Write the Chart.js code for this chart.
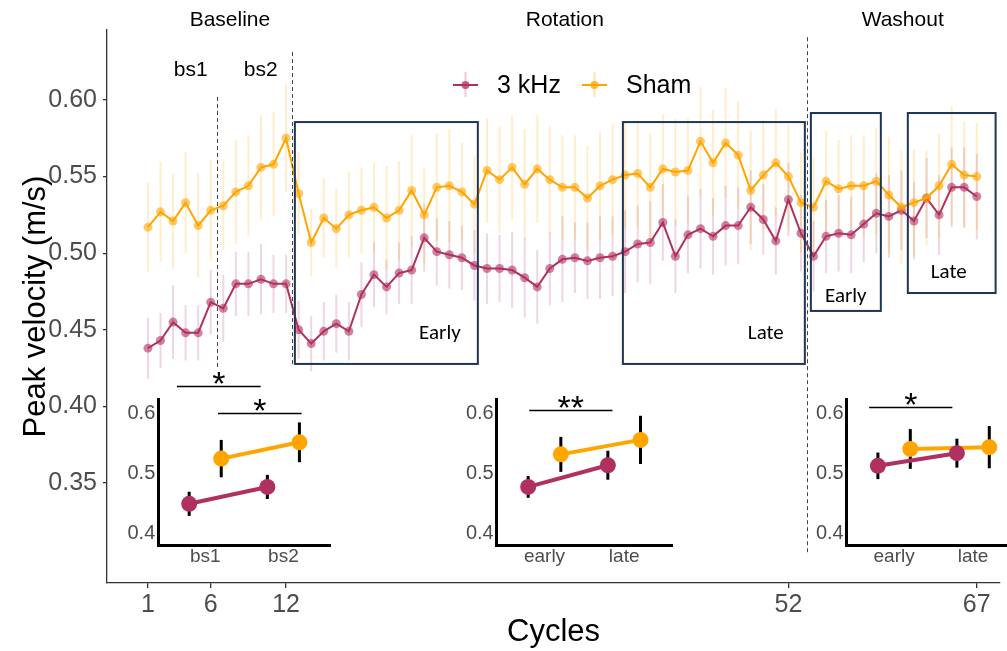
<!DOCTYPE html>
<html>
<head>
<meta charset="utf-8">
<script src="https://cdn.jsdelivr.net/npm/chart.js@4/dist/chart.umd.min.js"></script>
<style>
  html, body { margin: 0; padding: 0; background: #fff; overflow: hidden; width: 1007px; height: 651px; }
  #wrap { position: relative; width: 1007px; height: 651px; }
  canvas { position: absolute; }
</style>
</head>
<body>
<div id="wrap">
  <canvas id="main" width="1007" height="651" style="left:0;top:0"></canvas>
  <canvas id="inBase" width="240" height="215" style="left:100px;top:365px"></canvas>
  <canvas id="inRot" width="240" height="215" style="left:440px;top:365px"></canvas>
  <canvas id="inWash" width="240" height="215" style="left:790px;top:365px"></canvas>
</div>
<script>
const cycles = [1,2,3,4,5,6,7,8,9,10,11,12,13,14,15,16,17,18,19,20,21,22,23,24,25,26,27,28,29,30,
  31,32,33,34,35,36,37,38,39,40,41,42,43,44,45,46,47,48,49,50,51,52,53,54,55,56,57,58,59,60,
  61,62,63,64,65,66,67];
const xTicks = [1, 6, 12, 52, 67];
const yTicks = [0.35, 0.40, 0.45, 0.50, 0.55, 0.60];

const khz = [0.438,0.443,0.455,0.448,0.448,0.468,0.464,0.480,0.480,0.483,0.480,0.480,
  0.450,0.441,0.449,0.454,0.449,0.473,0.486,0.478,0.487,0.489,0.510,0.501,0.499,0.497,0.492,0.490,
  0.490,0.489,0.484,0.478,0.490,0.496,0.497,0.495,0.497,0.498,0.501,0.506,0.507,
  0.520,0.498,0.512,0.516,0.511,0.518,0.518,0.530,0.522,0.508,0.535,0.513,0.498,
  0.511,0.513,0.512,0.519,0.526,0.524,0.528,0.521,0.536,0.525,0.543,0.543,0.537];
const khzErr = [0.020,0.018,0.024,0.018,0.018,0.021,0.022,0.021,0.021,0.023,0.019,0.019,
  0.019,0.018,0.019,0.019,0.019,0.021,0.021,0.018,0.020,0.022,0.022,0.022,0.022,0.021,0.023,0.023,
  0.022,0.025,0.026,0.024,0.024,0.028,0.023,0.025,0.027,0.026,0.027,0.025,0.027,
  0.025,0.024,0.025,0.026,0.025,0.026,0.025,0.024,0.023,0.022,0.024,0.025,0.023,
  0.024,0.025,0.025,0.025,0.026,0.027,0.026,0.025,0.026,0.026,0.026,0.026,0.028];
const sham = [0.517,0.527,0.521,0.533,0.518,0.528,0.531,0.540,0.544,0.556,0.558,0.575,
  0.539,0.507,0.523,0.516,0.525,0.528,0.530,0.523,0.528,0.541,0.525,0.543,0.544,0.540,0.532,0.554,
  0.548,0.556,0.545,0.555,0.548,0.543,0.543,0.536,0.544,0.548,0.551,0.552,0.543,
  0.555,0.553,0.554,0.573,0.559,0.572,0.564,0.541,0.551,0.559,0.550,0.533,0.530,
  0.547,0.542,0.544,0.544,0.547,0.538,0.530,0.533,0.536,0.544,0.558,0.551,0.550];
const shamErr = [0.029,0.033,0.031,0.033,0.034,0.033,0.029,0.034,0.033,0.034,0.034,0.035,
  0.027,0.022,0.026,0.026,0.028,0.028,0.029,0.034,0.032,0.036,0.031,0.035,0.037,0.032,0.032,0.034,
  0.035,0.034,0.036,0.035,0.035,0.034,0.034,0.034,0.035,0.036,0.035,0.035,0.035,
  0.036,0.035,0.034,0.036,0.035,0.036,0.035,0.039,0.036,0.035,0.034,0.033,0.032,
  0.033,0.032,0.033,0.033,0.035,0.038,0.037,0.035,0.031,0.034,0.038,0.035,0.035];

// block averages shown in the small panels
const blockTicks = [1, 2];
const insetYTicks = [0.4, 0.5, 0.6];
const baseLabels = ['bs1', 'bs2'];
const baseKhz = [0.450, 0.478];
const baseKhzErr = [0.020, 0.020];
const baseSham = [0.525, 0.552];
const baseShamErr = [0.031, 0.033];
const rotLabels = ['early', 'late'];
const rotKhz = [0.478, 0.514];
const rotKhzErr = [0.018, 0.024];
const rotSham = [0.532, 0.556];
const rotShamErr = [0.029, 0.040];
const washLabels = ['early', 'late'];
const washKhz = [0.513, 0.534];
const washKhzErr = [0.022, 0.024];
const washSham = [0.541, 0.544];
const washShamErr = [0.033, 0.035];

// phase boxes and markers, in data units
const boxes = [
  { x0: 12.7, x1: 27.27, y0: 0.4277, y1: 0.5856, text: 'Early', tx: 24.25, ty: 0.4473 },
  { x0: 38.82, x1: 53.31, y0: 0.4277, y1: 0.5856, text: 'Late', tx: 50.2, ty: 0.4473 },
  { x0: 53.79, x1: 59.36, y0: 0.4623, y1: 0.5915, text: 'Early', tx: 56.57, ty: 0.4714 },
  { x0: 61.51, x1: 68.5, y0: 0.4740, y1: 0.5915, text: 'Late', tx: 64.77, ty: 0.4870 }
];
const dividers = [
  { x: 6.5, y0: 0.4238, y1: 0.602 },
  { x: 12.45, y0: 0.427, y1: 0.6313 },
  { x: 53.5, y0: 0.303, y1: 0.641 }
];
const phaseTitles = [
  { text: 'Baseline', x: 7.53, y: 0.6522 },
  { text: 'Rotation', x: 34.2, y: 0.6522 },
  { text: 'Washout', x: 61.1, y: 0.6522 },
  { text: 'bs1', x: 4.4, y: 0.6196 },
  { text: 'bs2', x: 9.98, y: 0.6196 }
];

const PURPLE = '#b03060';
const ORANGE = '#ffa500';
const SANS = '"Liberation Sans", Arial, sans-serif';
const CALIBRI = 'Carlito, Lato, "Open Sans", sans-serif';

Chart.defaults.font.family = SANS;

const errorBars = {
  id: 'errorBars',
  beforeDatasetsDraw(chart) {
    const { ctx, scales: { x, y } } = chart;
    chart.data.datasets.forEach(ds => {
      if (!ds.errors) return;
      ctx.save();
      ctx.strokeStyle = ds.errorColor;
      ctx.lineWidth = ds.errorWidth;
      ds.data.forEach((p, j) => {
        const px = x.getPixelForValue(p.x);
        ctx.beginPath();
        ctx.moveTo(px, y.getPixelForValue(p.y - ds.errors[j]));
        ctx.lineTo(px, y.getPixelForValue(p.y + ds.errors[j]));
        ctx.stroke();
      });
      ctx.restore();
    });
  }
};

const phaseMarks = {
  id: 'phaseMarks',
  afterDatasetsDraw(chart) {
    const { ctx, scales: { x, y } } = chart;
    ctx.save();
    // dashed phase dividers
    ctx.strokeStyle = '#444';
    ctx.lineWidth = 1;
    ctx.setLineDash([4, 3]);
    dividers.forEach(d => {
      const px = Math.round(x.getPixelForValue(d.x)) + 0.5;
      ctx.beginPath();
      ctx.moveTo(px, y.getPixelForValue(d.y1));
      ctx.lineTo(px, y.getPixelForValue(d.y0));
      ctx.stroke();
    });
    ctx.setLineDash([]);

    // early / late windows
    ctx.strokeStyle = '#1f3556';
    ctx.lineWidth = 2;
    ctx.fillStyle = '#000';
    ctx.font = '21px ' + CALIBRI;
    ctx.textAlign = 'center';
    ctx.textBaseline = 'middle';
    boxes.forEach(b => {
      const l = x.getPixelForValue(b.x0), r = x.getPixelForValue(b.x1);
      const t = y.getPixelForValue(b.y1), btm = y.getPixelForValue(b.y0);
      ctx.strokeRect(l, t, r - l, btm - t);
      ctx.fillText(b.text, x.getPixelForValue(b.tx), y.getPixelForValue(b.ty));
    });

    ctx.font = '21px ' + SANS;
    phaseTitles.forEach(p => {
      ctx.fillText(p.text, x.getPixelForValue(p.x), y.getPixelForValue(p.y));
    });

    // legend
    const items = [
      { text: '3 kHz', color: PURPLE, fade: 'rgba(176,48,96,0.25)', x0: 453 },
      { text: 'Sham', color: ORANGE, fade: 'rgba(255,165,0,0.3)', x0: 582 }
    ];
    ctx.font = '25px ' + SANS;
    ctx.textAlign = 'left';
    items.forEach(it => {
      const cy = 85;
      ctx.strokeStyle = it.fade;
      ctx.lineWidth = 2;
      ctx.beginPath();
      ctx.moveTo(it.x0 + 12.5, cy - 13);
      ctx.lineTo(it.x0 + 12.5, cy + 12);
      ctx.stroke();
      ctx.strokeStyle = it.color;
      ctx.beginPath();
      ctx.moveTo(it.x0, cy);
      ctx.lineTo(it.x0 + 25, cy);
      ctx.stroke();
      ctx.fillStyle = it.color;
      ctx.globalAlpha = 0.75;
      ctx.beginPath();
      ctx.arc(it.x0 + 12.5, cy, 4, 0, Math.PI * 2);
      ctx.fill();
      ctx.globalAlpha = 1;
      ctx.fillStyle = '#000';
      ctx.fillText(it.text, it.x0 + 44, cy + 1);
    });
    ctx.restore();
  }
};

new Chart(document.getElementById('main'), {
  type: 'line',
  data: {
    datasets: [
      {
        label: '3 kHz',
        data: cycles.map((c, i) => ({ x: c, y: khz[i] })),
        errors: khzErr,
        errorColor: 'rgba(176,48,96,0.2)',
        errorWidth: 2,
        borderColor: PURPLE,
        borderWidth: 2,
        pointRadius: 4.5,
        pointBorderWidth: 0,
        pointBackgroundColor: 'rgba(176,48,96,0.6)',
        order: 1
      },
      {
        label: 'Sham',
        data: cycles.map((c, i) => ({ x: c, y: sham[i] })),
        errors: shamErr,
        errorColor: 'rgba(255,165,0,0.2)',
        errorWidth: 2,
        borderColor: ORANGE,
        borderWidth: 2,
        pointRadius: 4.5,
        pointBorderWidth: 0,
        pointBackgroundColor: 'rgba(255,165,0,0.6)',
        order: 0
      }
    ]
  },
  options: {
    responsive: false,
    animation: false,
    devicePixelRatio: 1,
    layout: { padding: { top: 30, right: 7, left: 0, bottom: 0 } },
    plugins: { legend: { display: false }, tooltip: { enabled: false } },
    scales: {
      x: {
        type: 'linear', min: -2.26, max: 68.85,
        grid: { display: true, drawOnChartArea: false, drawTicks: true, tickLength: 5, color: '#333', lineWidth: 1.3 },
        border: { color: '#333', width: 1.3 },
        afterBuildTicks: s => { s.ticks = xTicks.map(v => ({ value: v })); },
        ticks: { font: { size: 25 }, color: '#4d4d4d', padding: 2, autoSkip: false, maxRotation: 0 },
        title: { display: true, text: 'Cycles', font: { size: 31 }, color: '#000', padding: { top: 0, bottom: 0 } },
        afterFit: s => { s.height = 68; }
      },
      y: {
        min: 0.2847, max: 0.6457,
        grid: { display: true, drawOnChartArea: false, drawTicks: true, tickLength: 4, color: '#333', lineWidth: 1.3 },
        border: { color: '#333', width: 1.3 },
        afterBuildTicks: s => { s.ticks = yTicks.map(v => ({ value: v })); },
        ticks: { font: { size: 25 }, color: '#4d4d4d', padding: 6, callback: v => v.toFixed(2) },
        title: { display: true, text: 'Peak velocity (m/s)', font: { size: 31 }, color: '#000', padding: { top: 18, bottom: 0 } },
        afterFit: s => { s.width = 107; }
      }
    }
  },
  plugins: [errorBars, phaseMarks]
});

// significance brackets above each small panel
function sigPlugin(marks) {
  return {
    id: 'sig',
    afterDatasetsDraw(chart) {
      const { ctx, scales: { x, y } } = chart;
      ctx.save();
      ctx.strokeStyle = '#000';
      ctx.fillStyle = '#000';
      ctx.lineWidth = 1.5;
      ctx.font = '34px ' + SANS;
      ctx.textAlign = 'center';
      ctx.textBaseline = 'alphabetic';
      marks.forEach(m => {
        const l = x.getPixelForValue(m.x0), r = x.getPixelForValue(m.x1);
        const py = Math.round(y.getPixelForValue(m.y)) + 0.5;
        ctx.beginPath();
        ctx.moveTo(l, py);
        ctx.lineTo(r, py);
        ctx.stroke();
        ctx.fillText(m.stars, (l + r) / 2, py + 8);
      });
      ctx.restore();
    }
  };
}

function makeInset(id, labels, kVals, kErrs, sVals, sErrs, marks, axisWidth, padRight) {
  const dodge = 0.205;
  new Chart(document.getElementById(id), {
    type: 'line',
    data: {
      datasets: [
        {
          label: '3 kHz',
          data: blockTicks.map((t, i) => ({ x: t - dodge, y: kVals[i] })),
          errors: kErrs, errorColor: '#000', errorWidth: 3,
          borderColor: PURPLE, backgroundColor: PURPLE, borderWidth: 4,
          pointRadius: 8, pointBorderWidth: 0, order: 0
        },
        {
          label: 'Sham',
          data: blockTicks.map((t, i) => ({ x: t + dodge, y: sVals[i] })),
          errors: sErrs, errorColor: '#000', errorWidth: 3,
          borderColor: ORANGE, backgroundColor: ORANGE, borderWidth: 4,
          pointRadius: 8, pointBorderWidth: 0, order: 1
        }
      ]
    },
    options: {
      responsive: false,
      animation: false,
      devicePixelRatio: 1,
      clip: false,
      layout: { padding: { top: 34.5, right: padRight, left: 0, bottom: 0 } },
      plugins: { legend: { display: false }, tooltip: { enabled: false } },
      scales: {
        x: {
          type: 'linear', min: 0.4, max: 2.6,
          grid: { display: false, drawTicks: false },
          border: { color: '#000', width: 3 },
          afterBuildTicks: s => { s.ticks = blockTicks.map(v => ({ value: v })); },
          ticks: { callback: v => labels[blockTicks.indexOf(v)], font: { size: 19 }, color: '#4d4d4d', padding: 0, autoSkip: false, maxRotation: 0 },
          afterFit: s => { s.height = 35; }
        },
        y: {
          min: 0.3817, max: 0.623,
          grid: { display: false, drawTicks: false },
          border: { color: '#000', width: 3 },
          afterBuildTicks: s => { s.ticks = insetYTicks.map(v => ({ value: v })); },
          ticks: { callback: v => v.toFixed(1), font: { size: 20 }, color: '#4d4d4d', padding: 3 },
          afterFit: s => { s.width = axisWidth; }
        }
      }
    },
    plugins: [errorBars, sigPlugin(marks)]
  });
}

makeInset('inBase', baseLabels, baseKhz, baseKhzErr, baseSham, baseShamErr,
  [{ x0: 0.638, x1: 1.71, y: 0.6455, stars: '*' }, { x0: 1.164, x1: 2.233, y: 0.600, stars: '*' }], 58.3, 9.7);
makeInset('inRot', rotLabels, rotKhz, rotKhzErr, rotSham, rotShamErr,
  [{ x0: 0.808, x1: 1.853, y: 0.6055, stars: '**' }], 56.7, 8);
makeInset('inWash', washLabels, washKhz, washKhzErr, washSham, washShamErr,
  [{ x0: 0.684, x1: 1.738, y: 0.611, stars: '*' }], 56.7, 9.5);
</script>
</body>
</html>
